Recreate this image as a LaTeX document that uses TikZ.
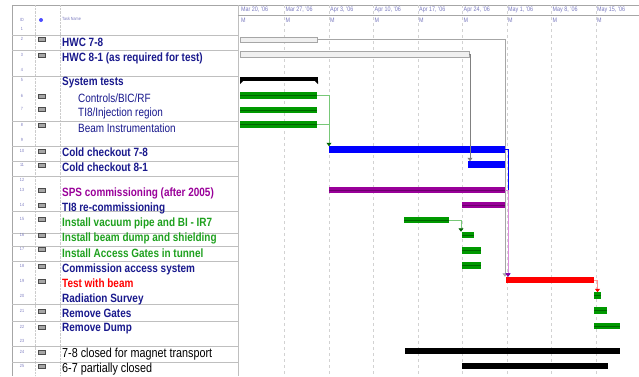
\documentclass[tikz,border=0pt]{standalone}
\usepackage{fontspec}
\setmainfont{Liberation Sans}[FakeStretch=0.83]
\usetikzlibrary{arrows.meta}
\definecolor{navy}{RGB}{24,24,140}
\definecolor{idgray}{RGB}{120,120,190}
\definecolor{ganttgreen}{RGB}{0,153,0}
\definecolor{darkgreen}{RGB}{0,100,0}
\definecolor{textgreen}{RGB}{30,160,30}
\definecolor{lightgreen}{RGB}{120,200,120}
\definecolor{plum}{RGB}{153,0,153}
\definecolor{pinkline}{RGB}{220,140,220}
\definecolor{redline}{RGB}{255,150,150}

\begin{document}
\begin{tikzpicture}[x=1pt, y=-1pt,
    idnum/.style = {font=\fontsize{4.5}{5}\selectfont, text=idgray, inner sep=0},
    hdr/.style = {anchor=west, inner sep=0, text=idgray,
      font=\fontsize{6.5}{7}\selectfont},
    task/.style = {anchor=west, inner sep=0, text=navy,
      font=\fontsize{12}{13}\selectfont\bfseries},
    subtask/.style = {task, font=\fontsize{12}{13}\selectfont},
    plaintask/.style = {task, text=black, font=\fontsize{13}{14}\selectfont},
    note/.style = {draw=black!70, fill=black!35, inner sep=0,
      minimum width=7pt, minimum height=4.5pt},
    bar/.style = {anchor=west, inner sep=0, outer sep=0, minimum height=6.5pt},
    hwcbar/.style = {bar, minimum height=5pt, fill=gray!12, draw=gray!70},
    greenbar/.style = {bar, fill=ganttgreen,
      path picture={\draw[darkgreen, line width=1pt] (path picture bounding box.west)
        -- (path picture bounding box.east);}},
    plumbar/.style = {bar, fill=plum,
      path picture={\draw[plum!70!black, line width=1pt] (path picture bounding box.west)
        -- (path picture bounding box.east);}},
    bluebar/.style = {bar, fill=blue},
    redbar/.style = {bar, fill=red},
    blackbar/.style = {bar, fill=black},
    grid/.style = {gray!35, dashed, line width=0.5pt},
    link/.style = {line width=0.6pt, -{Triangle[width=5pt, length=3.5pt]}}]

  \useasboundingbox (0,0) rectangle (639,376);

  % table frame
  \draw[gray!70] (12,5) -- (639,5);
  \draw[gray!70] (12,5) -- (12,376);
  \draw[gray!40, densely dotted] (35,5) -- (35,376);
  \draw[gray!40, densely dotted] (60,5) -- (60,376);
  \draw[gray!50] (238,5) -- (238,376);
  \draw[gray!70] (238,15) -- (639,15);
  \draw[gray!50] (12,35) -- (238,35);
  \draw[gray!50] (12,50) -- (238,50);
  \draw[gray!50] (12,76) -- (238,76);
  \draw[gray!50] (12,121) -- (238,121);
  \draw[gray!50] (12,146) -- (238,146);
  \draw[gray!50] (12,161) -- (238,161);
  \draw[gray!50] (12,176) -- (238,176);
  \draw[gray!50] (12,211) -- (238,211);
  \draw[gray!50] (12,233) -- (238,233);
  \draw[gray!50] (12,246) -- (238,246);
  \draw[gray!50] (12,261) -- (238,261);
  \draw[gray!50] (12,304) -- (238,304);
  \draw[gray!50] (12,321) -- (238,321);
  \draw[gray!50] (12,346) -- (238,346);
  \draw[gray!50] (12,362) -- (238,362);

  % timescale
  \draw[grid] (284.5,5) -- (284.5,376);
  \draw[grid] (329,5) -- (329,376);
  \draw[grid] (373.5,5) -- (373.5,376);
  \draw[grid] (418,5) -- (418,376);
  \draw[grid] (462.5,5) -- (462.5,376);
  \draw[grid] (507,5) -- (507,376);
  \draw[grid] (551.5,5) -- (551.5,376);
  \draw[grid] (596,5) -- (596,376);
  \node[hdr] (mar20) at (241,10) {Mar 20, '06};
  \node[hdr] (mar27) at (285.5,10) {Mar 27, '06};
  \node[hdr] (apr3) at (330,10) {Apr 3, '06};
  \node[hdr] (apr10) at (374.5,10) {Apr 10, '06};
  \node[hdr] (apr17) at (419,10) {Apr 17, '06};
  \node[hdr] (apr24) at (463.5,10) {Apr 24, '06};
  \node[hdr] (may1) at (508,10) {May 1, '06};
  \node[hdr] (may8) at (552.5,10) {May 8, '06};
  \node[hdr] (may15) at (597,10) {May 15, '06};
  \node[hdr] (m1) at (241,20) {M};
  \node[hdr] (m2) at (285.5,20) {M};
  \node[hdr] (m3) at (330,20) {M};
  \node[hdr] (m4) at (374.5,20) {M};
  \node[hdr] (m5) at (419,20) {M};
  \node[hdr] (m6) at (463.5,20) {M};
  \node[hdr] (m7) at (508,20) {M};
  \node[hdr] (m8) at (552.5,20) {M};
  \node[hdr] (m9) at (597,20) {M};

  % header row
  \node[idnum] (idhdr) at (22,20) {ID};
  \node[circle, fill=blue!70, inner sep=0, minimum size=4pt] (info) at (41,20) {};
  \node[hdr, font=\fontsize{4.5}{5}\selectfont] (namehdr) at (62,19) {Task Name};

  % ID column
  \node[idnum] (id1) at (22,29) {1};
  \node[idnum] (id2) at (22,39) {2};
  \node[idnum] (id3) at (22,55) {3};
  \node[idnum] (id4) at (22,70) {4};
  \node[idnum] (id5) at (22,80) {5};
  \node[idnum] (id6) at (22,96) {6};
  \node[idnum] (id7) at (22,109) {7};
  \node[idnum] (id8) at (22,125) {8};
  \node[idnum] (id9) at (22,140) {9};
  \node[idnum] (id10) at (22,151) {10};
  \node[idnum] (id11) at (22,165) {11};
  \node[idnum] (id12) at (22,180) {12};
  \node[idnum] (id13) at (22,190) {13};
  \node[idnum] (id14) at (22,205) {14};
  \node[idnum] (id15) at (22,219) {15};
  \node[idnum] (id16) at (22,235) {16};
  \node[idnum] (id17) at (22,249) {17};
  \node[idnum] (id18) at (22,266) {18};
  \node[idnum] (id19) at (22,281) {19};
  \node[idnum] (id20) at (22,296) {20};
  \node[idnum] (id21) at (22,311) {21};
  \node[idnum] (id22) at (22,327) {22};
  \node[idnum] (id23) at (22,341) {23};
  \node[idnum] (id24) at (22,352) {24};
  \node[idnum] (id25) at (22,366) {25};

  % indicators
  \node[note] (n2) at (42,39) {};
  \node[note] (n3) at (42,55) {};
  \node[note] (n6) at (42,96) {};
  \node[note] (n7) at (42,109) {};
  \node[note] (n8) at (42,125) {};
  \node[note] (n10) at (42,151) {};
  \node[note] (n11) at (42,165) {};
  \node[note] (n13) at (42,190) {};
  \node[note] (n14) at (42,205) {};
  \node[note] (n15) at (42,219) {};
  \node[note] (n16) at (42,235) {};
  \node[note] (n17) at (42,249) {};
  \node[note] (n18) at (42,266) {};
  \node[note] (n19) at (42,281) {};
  \node[note] (n21) at (42,311) {};
  \node[note] (n22) at (42,327) {};
  \node[note] (n24) at (42,352) {};
  \node[note] (n25) at (42,366) {};

  % task names
  \node[task] (lhwc78) at (62,42.5) {HWC 7-8};
  \node[task] (lhwc81) at (62,58) {HWC 8-1 (as required for test)};
  \node[task] (lsys) at (62,83) {System tests};
  \node[subtask] (lctl) at (78,98) {Controls/BIC/RF};
  \node[subtask] (lti8i) at (78,113) {TI8/Injection region};
  \node[subtask] (lbi) at (78,128) {Beam Instrumentation};
  \node[task] (lcc78) at (62,152) {Cold checkout 7-8};
  \node[task] (lcc81) at (62,167) {Cold checkout 8-1};
  \node[task, text=plum] (lsps) at (62,193) {SPS commissioning (after 2005)};
  \node[task] (lti8r) at (62,208) {TI8 re-commissioning};
  \node[task, text=textgreen] (lvac) at (62,223) {Install vacuum pipe and BI - IR7};
  \node[task, text=textgreen] (ldump) at (62,238) {Install beam dump and shielding};
  \node[task, text=textgreen] (lgates) at (62,253) {Install Access Gates in tunnel};
  \node[task] (lcas) at (62,269) {Commission access system};
  \node[task, text=red] (ltest) at (62,283) {Test with beam};
  \node[task] (lrad) at (62,299) {Radiation Survey};
  \node[task] (lrgates) at (62,313) {Remove Gates};
  \node[task] (lrdump) at (62,329) {Remove Dump};
  \node[plaintask] (lcl78) at (62,354) {7-8 closed for magnet transport};
  \node[plaintask] (lcl67) at (62,369) {6-7 partially closed};

  % bars
  \node[hwcbar, minimum width=77pt] (hwc78) at (240,39.5) {};
  \node[hwcbar, minimum width=229pt, minimum height=6pt] (hwc81) at (240,54) {};
  \node[blackbar, minimum width=78pt, minimum height=4pt] (sys) at (240,79) {};
  \node[greenbar, minimum width=77pt] (ctl) at (240,95.5) {};
  \node[greenbar, minimum width=77pt] (ti8i) at (240,110) {};
  \node[greenbar, minimum width=77pt] (bi) at (240,124.5) {};
  \node[bluebar, minimum width=176pt] (cc78) at (329,149.5) {};
  \node[bluebar, minimum width=37pt] (cc81) at (468,164.5) {};
  \node[plumbar, minimum width=176pt] (sps) at (329,190) {};
  \node[plumbar, minimum width=43pt] (ti8r) at (462,205) {};
  \node[greenbar, minimum width=45pt] (vac) at (404,220) {};
  \node[greenbar, minimum width=12pt] (dump) at (462,235) {};
  \node[greenbar, minimum width=19pt] (gates) at (462,250.5) {};
  \node[greenbar, minimum width=19pt] (cas) at (462,265.5) {};
  \node[redbar, minimum width=88pt] (test) at (506,280) {};
  \node[greenbar, minimum width=7pt] (rad) at (594,295.5) {};
  \node[greenbar, minimum width=13pt] (rgates) at (594,310.5) {};
  \node[greenbar, minimum width=26pt] (rdump) at (594,326) {};
  \node[blackbar, minimum width=215pt] (cl78) at (405,351) {};
  \node[blackbar, minimum width=146pt] (cl67) at (462,366) {};
  \fill[black] (sys.south west) -- ++(3,0) -- ++(-3,3) -- cycle;
  \fill[black] (sys.south east) -- ++(-3,0) -- ++(3,3) -- cycle;

  % links
  \draw[link, gray!70] (hwc78.east) -| ([xshift=-1pt]test.north west);
  \draw[link, gray] (hwc81.east) -| ([xshift=2pt]cc81.north west);
  \draw[lightgreen, line width=0.6pt] (bi.east) -- (bi.east -| cc78.west);
  \draw[link, lightgreen, -{Triangle[width=5pt, length=3.5pt, color=darkgreen]}]
    (ctl.east) -| (cc78.north west);
  \draw[link, blue] (cc78.east) -| ([xshift=2pt]test.north west);
  \draw[link, pinkline, -{Triangle[width=5pt, length=3.5pt, color=plum]}]
    (sps.east) -| ([xshift=2pt]test.north west);
  \draw[link, lightgreen, -{Triangle[width=5pt, length=3.5pt, color=darkgreen]}]
    (vac.east) -| ([xshift=-1pt]dump.north west);
  \draw[link, redline, -{Triangle[width=5pt, length=3.5pt, color=red]}]
    (test.east) -| (rad.north);
\end{tikzpicture}
\end{document}
